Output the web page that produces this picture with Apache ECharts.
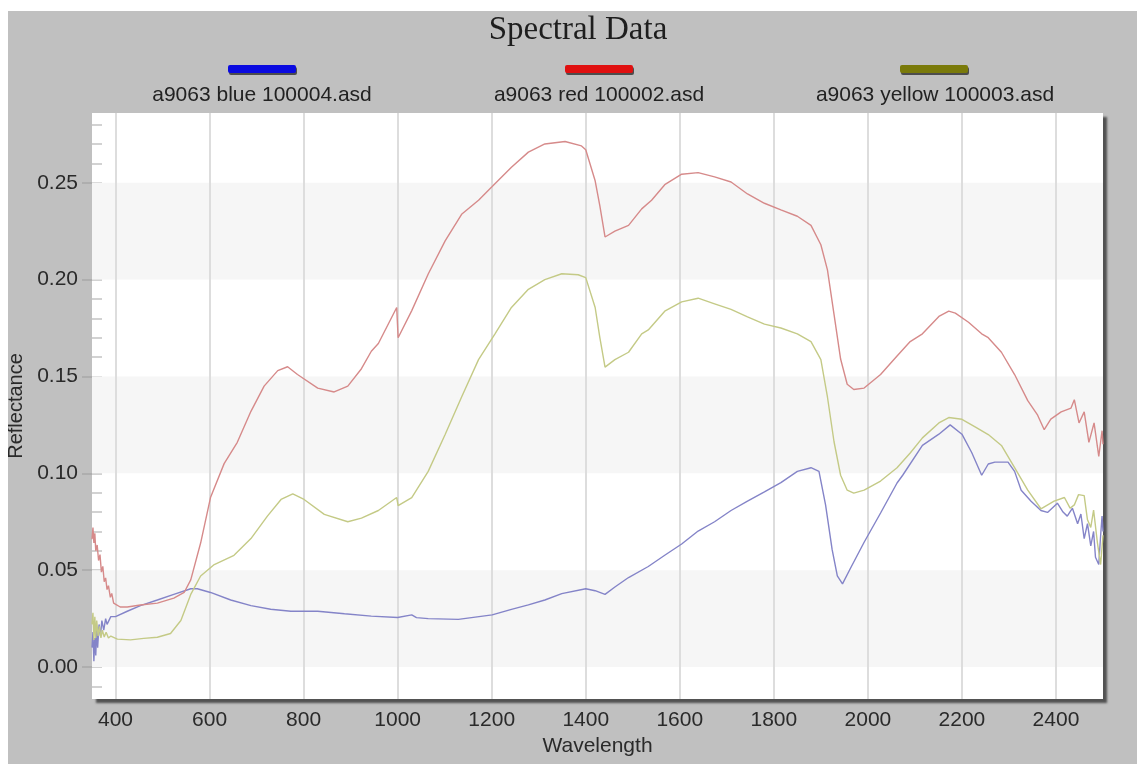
<!DOCTYPE html>
<html>
<head>
<meta charset="utf-8">
<script src="https://cdn.jsdelivr.net/npm/echarts@6/dist/echarts.min.js"></script>
<style>
  html, body { margin: 0; padding: 0; background: #fff; }
  #chart { position: absolute; left: 8px; top: 11px; width: 1129px; height: 753px; }
</style>
</head>
<body>
<div id="chart"></div>
<script>
// [wavelength, reflectance]
var blueData = [
  [350,0.010],[352,0.018],[354,0.003],[356,0.015],[358,0.006],[360,0.020],[362,0.010],[365,0.022],
  [368,0.016],[371,0.024],[375,0.019],[379,0.025],[382,0.022],[390,0.026],[400,0.026],[425,0.0288],
  [453,0.0317],[489,0.0346],[524,0.0375],[560,0.0404],[574,0.0404],[602,0.0385],[645,0.0346],
  [688,0.0317],[730,0.0298],[773,0.0288],[830,0.0288],[887,0.0275],[944,0.0263],[1000,0.0256],
  [1030,0.0269],[1040,0.0255],[1065,0.025],[1129,0.0246],[1201,0.0269],[1242,0.0298],[1278,0.0321],
  [1313,0.0346],[1349,0.0379],[1400,0.0404],[1420,0.0394],[1441,0.0375],[1462,0.0413],[1491,0.0462],
  [1533,0.0519],[1568,0.0577],[1604,0.0635],[1639,0.0702],[1674,0.075],[1709,0.0808],[1744,0.0856],
  [1780,0.0904],[1815,0.0952],[1850,0.101],[1879,0.1029],[1896,0.101],[1910,0.0837],[1924,0.0606],
  [1935,0.0471],[1946,0.0429],[1963,0.051],[1992,0.0644],[2027,0.0795],[2062,0.095],[2074,0.099],
  [2116,0.1144],[2151,0.1202],[2175,0.125],[2200,0.1202],[2221,0.1106],[2242,0.099],[2256,0.1048],
  [2270,0.1058],[2298,0.1058],[2312,0.101],[2326,0.0913],[2347,0.0856],[2368,0.0808],[2382,0.0798],
  [2403,0.0846],[2415,0.080],[2424,0.0779],[2435,0.082],[2446,0.074],[2453,0.079],[2460,0.0663],
  [2467,0.074],[2474,0.0625],[2480,0.070],[2484,0.0567],[2491,0.0529],[2495,0.068],[2498,0.0779],[2500,0.07]
];

var redData = [
  [350,0.066],[352,0.072],[354,0.064],[356,0.069],[358,0.060],[361,0.063],[364,0.055],[367,0.058],
  [370,0.049],[373,0.052],[376,0.044],[379,0.046],[382,0.040],[385,0.042],[389,0.036],[392,0.038],
  [396,0.033],[400,0.034],[410,0.031],[425,0.031],[453,0.032],[489,0.033],[524,0.0356],[546,0.0385],
  [560,0.045],[581,0.064],[602,0.0875],[631,0.105],[659,0.116],[688,0.132],[716,0.145],[745,0.153],
  [766,0.155],[787,0.151],[830,0.144],[865,0.142],[894,0.145],[923,0.154],[944,0.163],[959,0.167],
  [998,0.1856],[1001,0.170],[1030,0.184],[1065,0.2029],[1101,0.22],[1136,0.2337],[1172,0.241],
  [1201,0.248],[1242,0.258],[1278,0.2658],[1313,0.27],[1356,0.2713],[1391,0.269],[1400,0.267],
  [1420,0.251],[1430,0.238],[1441,0.222],[1462,0.225],[1491,0.228],[1519,0.2365],[1540,0.241],
  [1568,0.249],[1604,0.2544],[1639,0.2552],[1674,0.253],[1709,0.2504],[1744,0.2442],[1780,0.2394],
  [1815,0.236],[1850,0.2327],[1879,0.228],[1900,0.218],[1914,0.205],[1928,0.182],[1942,0.159],
  [1956,0.146],[1970,0.1433],[1992,0.144],[2027,0.151],[2062,0.1606],[2090,0.168],[2116,0.172],
  [2151,0.181],[2172,0.1837],[2186,0.1827],[2214,0.178],[2242,0.172],[2256,0.170],[2284,0.1625],
  [2312,0.151],[2340,0.1375],[2361,0.13],[2375,0.1225],[2389,0.128],[2411,0.1317],[2432,0.1337],
  [2439,0.138],[2449,0.126],[2460,0.1317],[2470,0.116],[2481,0.126],[2491,0.1087],[2498,0.122],[2500,0.115]
];

var yellowData = [
  [350,0.022],[352,0.028],[354,0.014],[356,0.026],[358,0.015],[360,0.024],[363,0.016],[366,0.021],
  [369,0.015],[372,0.019],[376,0.0155],[380,0.018],[385,0.015],[390,0.016],[404,0.0144],[432,0.014],
  [460,0.0148],[489,0.0154],[517,0.0173],[539,0.024],[560,0.0375],[581,0.047],[610,0.0529],
  [652,0.0577],[688,0.0663],[723,0.0779],[752,0.0865],[777,0.0894],[801,0.0865],[844,0.0788],
  [894,0.075],[923,0.0769],[959,0.0808],[998,0.0875],[1001,0.0833],[1030,0.0875],[1065,0.101],
  [1101,0.12],[1136,0.1394],[1172,0.1587],[1207,0.172],[1242,0.1856],[1278,0.195],[1313,0.2],
  [1349,0.203],[1384,0.2025],[1400,0.201],[1420,0.1856],[1430,0.17],[1441,0.1548],[1462,0.1587],
  [1491,0.1625],[1519,0.172],[1533,0.174],[1568,0.1837],[1604,0.1885],[1639,0.1904],[1674,0.1875],
  [1709,0.1846],[1744,0.1808],[1780,0.177],[1815,0.175],[1850,0.172],[1879,0.168],[1900,0.1587],
  [1914,0.1394],[1928,0.1163],[1942,0.099],[1956,0.0913],[1970,0.0898],[1992,0.0913],[2027,0.096],
  [2062,0.1029],[2090,0.1105],[2116,0.1183],[2151,0.126],[2172,0.1288],[2200,0.1279],[2228,0.124],
  [2256,0.12],[2284,0.1144],[2312,0.1029],[2340,0.0913],[2368,0.0817],[2396,0.0856],[2418,0.0875],
  [2430,0.082],[2439,0.0837],[2448,0.089],[2460,0.0885],[2467,0.076],[2474,0.0721],[2480,0.081],
  [2488,0.0644],[2495,0.0529],[2500,0.068]
];

var seriesNames = ['a9063 blue 100004.asd', 'a9063 red 100002.asd', 'a9063 yellow 100003.asd'];
var xLabels = [400, 600, 800, 1000, 1200, 1400, 1600, 1800, 2000, 2200, 2400];
var xMinorTicks = [];
for (var t = 400; t <= 2450; t += 50) xMinorTicks.push(t);
var yLabels = [0, 0.05, 0.10, 0.15, 0.20, 0.25];
var yMinorTicks = [];
for (var k = -1; k <= 28; k++) yMinorTicks.push(+(k * 0.01).toFixed(2));
var bands = [[0, 0.05], [0.10, 0.15], [0.20, 0.25]];

var chart = echarts.init(document.getElementById('chart'));

var font = 'Liberation Sans, Arial, sans-serif';
var labelStyle = { fontFamily: font, fontSize: 21, color: '#2a2a2a' };
var legendText = { fontFamily: font, fontWeight: 'normal', fontSize: 21, color: '#222' };

var option = {
  animation: false,
  backgroundColor: '#c0c0c0',
  title: [
    { text: 'Spectral Data', left: 570, top: 3, padding: 0, textAlign: 'center', textVerticalAlign: 'top',
      textStyle: { fontFamily: 'Liberation Serif, serif', fontWeight: 'normal', fontSize: 33, color: '#1e1e1e' } },
    { text: seriesNames[0], left: 254, top: 74, padding: 0, textAlign: 'center', textVerticalAlign: 'top', textStyle: legendText },
    { text: seriesNames[1], left: 591, top: 74, padding: 0, textAlign: 'center', textVerticalAlign: 'top', textStyle: legendText },
    { text: seriesNames[2], left: 927, top: 74, padding: 0, textAlign: 'center', textVerticalAlign: 'top', textStyle: legendText }
  ],
  legend: [
    { data: [seriesNames[0]], left: 220, top: 54, padding: 0, icon: 'roundRect', itemWidth: 68, itemHeight: 8, itemGap: 0, formatter: function () { return ''; },
      itemStyle: { shadowColor: 'rgba(0,0,0,0.6)', shadowOffsetX: 1, shadowOffsetY: 2 } },
    { data: [seriesNames[1]], left: 557, top: 54, padding: 0, icon: 'roundRect', itemWidth: 68, itemHeight: 8, itemGap: 0, formatter: function () { return ''; },
      itemStyle: { shadowColor: 'rgba(0,0,0,0.6)', shadowOffsetX: 1, shadowOffsetY: 2 } },
    { data: [seriesNames[2]], left: 892, top: 54, padding: 0, icon: 'roundRect', itemWidth: 68, itemHeight: 8, itemGap: 0, formatter: function () { return ''; },
      itemStyle: { shadowColor: 'rgba(0,0,0,0.6)', shadowOffsetX: 1, shadowOffsetY: 2 } }
  ],
  grid: {
    left: 84, top: 102, right: 34, bottom: 65,
    outerBoundsMode: 'none',
    show: true,
    backgroundColor: '#ffffff',
    borderWidth: 0,
    shadowColor: 'rgba(70,70,70,0.9)',
    shadowBlur: 2,
    shadowOffsetX: 4,
    shadowOffsetY: 4
  },
  xAxis: {
    type: 'value',
    min: 350,
    max: 2500,
    name: 'Wavelength',
    nameLocation: 'middle',
    nameGap: 36,
    nameTextStyle: { fontFamily: font, fontSize: 21, color: '#2a2a2a' },
    axisLine: { show: false },
    axisTick: { show: true, inside: true, length: 11, customValues: xMinorTicks, lineStyle: { color: '#b8b8b8', width: 1.5 } },
    axisLabel: Object.assign({ margin: 11, customValues: xLabels, formatter: function (v) { return String(v); } }, labelStyle),
    splitLine: { show: false }
  },
  yAxis: [
    {
      type: 'value',
      min: -0.0165,
      max: 0.286,
      name: 'Reflectance',
      nameLocation: 'middle',
      nameGap: 62,
      nameTextStyle: { fontFamily: font, fontSize: 20, color: '#2a2a2a' },
      axisLine: { show: false },
      axisTick: { show: true, inside: false, length: 10, customValues: yLabels, lineStyle: { color: '#a8a8a8', width: 1.5 } },
      axisLabel: Object.assign({ margin: 14, customValues: yLabels, formatter: function (v) { return v.toFixed(2); } }, labelStyle),
      splitLine: { show: false }
    },
    {
      type: 'value',
      min: -0.0165,
      max: 0.286,
      position: 'left',
      axisLine: { show: false },
      axisTick: { show: true, inside: true, length: 10, customValues: yMinorTicks, lineStyle: { color: '#c4c4c4', width: 1.5 } },
      axisLabel: { show: false },
      splitLine: { show: false }
    }
  ],
  series: [
    {
      name: seriesNames[0],
      type: 'line',
      data: blueData,
      showSymbol: false,
      z: 3,
      itemStyle: { color: '#0a0ae0' },
      lineStyle: { color: '#8484c8', width: 1.4 },
      markArea: {
        silent: true,
        z: 1,
        itemStyle: { color: '#f6f6f6' },
        data: bands.map(function (b) { return [{ yAxis: b[0] }, { yAxis: b[1] }]; })
      },
      markLine: {
        silent: true,
        z: 1,
        symbol: 'none',
        label: { show: false },
        lineStyle: { color: '#dddddd', width: 2, type: 'solid' },
        data: xLabels.map(function (x) { return { xAxis: x }; })
      }
    },
    {
      name: seriesNames[1],
      type: 'line',
      data: redData,
      showSymbol: false,
      z: 3,
      itemStyle: { color: '#e01010' },
      lineStyle: { color: '#d68a8a', width: 1.4 }
    },
    {
      name: seriesNames[2],
      type: 'line',
      data: yellowData,
      showSymbol: false,
      z: 3,
      itemStyle: { color: '#7a7a0a' },
      lineStyle: { color: '#c4ca86', width: 1.4 }
    }
  ]
};

chart.setOption(option);
window.addEventListener('resize', function () { chart.resize(); });
</script>
</body>
</html>
